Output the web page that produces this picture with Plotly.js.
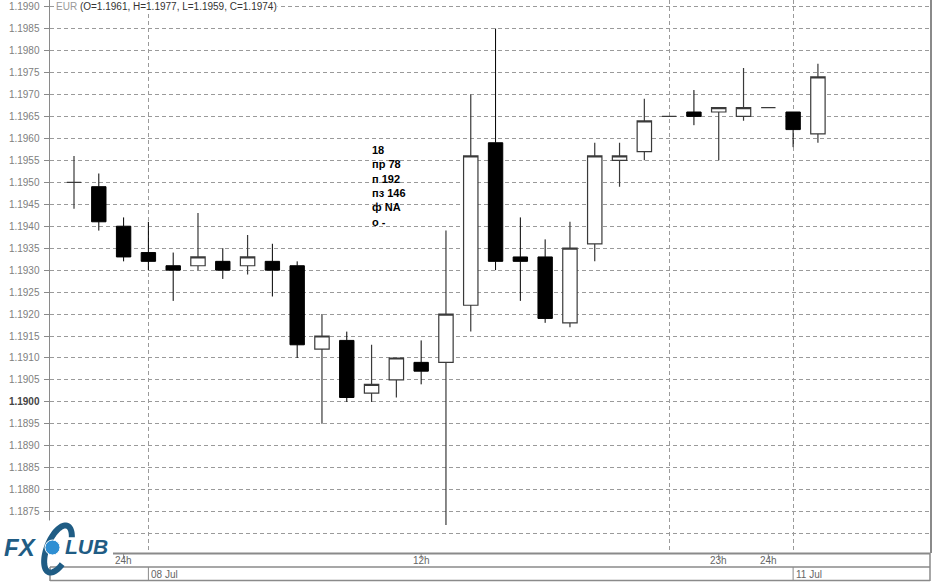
<!DOCTYPE html>
<html>
<head>
<meta charset="utf-8">
<script src="https://cdn.plot.ly/plotly-3.0.1.min.js"></script>
<style>html,body{margin:0;padding:0;background:#fff;}#chart{width:940px;height:582px;}</style>
</head>
<body>
<div id="chart"></div>
<script>
// ---- data ----
const openP  = [1.1950,1.1949,1.1940,1.1934,1.1931,1.1931,1.1932,1.1931,1.1932,1.1931,1.1912,1.1914,1.1902,1.1905,1.1909,1.1909,1.1922,1.1959,1.1933,1.1933,1.1918,1.1936,1.1955,1.1957,1.1965,1.1966,1.1966,1.1965,1.1967,1.1966,1.1961];
const highP  = [1.1956,1.1952,1.1942,1.1941,1.1934,1.1943,1.1935,1.1938,1.1936,1.1932,1.1920,1.1916,1.1913,1.1910,1.1914,1.1939,1.1970,1.1985,1.1942,1.1937,1.1941,1.1959,1.1959,1.1969,1.1965,1.1971,1.1967,1.1976,1.1967,1.1966,1.1977];
const lowP   = [1.1944,1.1939,1.1932,1.1930,1.1923,1.1930,1.1928,1.1929,1.1924,1.1910,1.1895,1.1900,1.1900,1.1901,1.1904,1.1872,1.1916,1.1930,1.1923,1.1918,1.1917,1.1932,1.1949,1.1955,1.1965,1.1963,1.1955,1.1964,1.1967,1.1958,1.1959];
const closeP = [1.1950,1.1941,1.1933,1.1932,1.1930,1.1933,1.1930,1.1933,1.1930,1.1913,1.1915,1.1901,1.1904,1.1910,1.1907,1.1920,1.1956,1.1932,1.1932,1.1919,1.1935,1.1956,1.1956,1.1964,1.1965,1.1965,1.1967,1.1967,1.1967,1.1962,1.1974];
const barIndex = openP.map((_, i) => i);

const yTickVals = [1.1870,1.1875,1.1880,1.1885,1.1890,1.1895,1.1900,1.1905,1.1910,1.1915,1.1920,1.1925,1.1930,1.1935,1.1940,1.1945,1.1950,1.1955,1.1960,1.1965,1.1970,1.1975,1.1980,1.1985,1.1990];
const yTickText = ["","1.1875","1.1880","1.1885","1.1890","1.1895","<b><span style=\"color:#444\">1.1900</span></b>","1.1905","1.1910","1.1915","1.1920","1.1925","1.1930","1.1935","1.1940","1.1945","1.1950","1.1955","1.1960","1.1965","1.1970","1.1975","1.1980","1.1985","1.1990"];

const dayGridIdx = [3, 24, 29];
const hourTickIdx = [2, 14, 26, 28];
const hourTickLabels = ["24h", "12h", "23h", "24h"];
const dayLabelIdx = [3, 29];
const dayLabels = ["08 Jul", "11 Jul"];

const headerSymbol = "EUR";
const headerText = "(O=1.1961, H=1.1977, L=1.1959, C=1.1974)";
const infoLines = ["18", "пр 78", "п 192", "пз 146", "ф NA", "о -"];
const logoLeft = "FX";
const logoRight = "LUB";

// ---- layout helpers ----
const W = 940, H = 582, ML = 50, MR = 10, MT = 0, MB = 29;
const PW = W - ML - MR, PH = H - MT - MB;
const xRange = [-0.968, 34.52];
const yRange = [1.18656, 1.19915];
const px2paperX = p => (p - ML) / PW;
const py2paperY = p => 1 - (p - MT) / PH;
const idx2paperX = i => (i - xRange[0]) / (xRange[1] - xRange[0]);
const FONT = "Liberation Sans, Arial, sans-serif";
const AX = "#8a8a8a";
const LOGO = "#1f5c84";

const shapes = [];
function hline(x0, x1, py, w, c) {
  shapes.push({type:'line', xref:'paper', yref:'paper', x0:px2paperX(x0), x1:px2paperX(x1), y0:py2paperY(py), y1:py2paperY(py), line:{color:c||AX, width:w||1}, layer:'above'});
}
function vlinePx(xp, py0, py1, w, c) {
  shapes.push({type:'line', xref:'paper', yref:'paper', x0:xp, x1:xp, y0:py2paperY(py0), y1:py2paperY(py1), line:{color:c||AX, width:w||1}, layer:'above'});
}
// logo background (covers axis line / grid at bottom-left)
shapes.push({type:'rect', xref:'paper', yref:'paper', x0:px2paperX(-5), x1:px2paperX(113), y0:py2paperY(566), y1:py2paperY(521), fillcolor:'rgba(255,255,255,1)', line:{color:'rgba(255,255,255,1)', width:1}, layer:'above'});
// time axis rows
hline(113, 930, 553.5, 2);
hline(50, 930, 567, 1.5);
hline(50, 930, 580.5, 1.5);
vlinePx(px2paperX(50), 567, 581, 1.5);
vlinePx(px2paperX(930), 553, 581, 1.5);
dayLabelIdx.forEach(i => vlinePx(idx2paperX(i), 567, 580, 1));
hourTickIdx.forEach(i => vlinePx(idx2paperX(i), 553, 559, 1));

// logo: tilted "C" ring drawn as a path in pixel space -> paper
(function () {
  const cx = 58, cy = 549, a = 11, b = 25, phi = 22 * Math.PI / 180;
  let d = '';
  for (let k = 0; k <= 60; k++) {
    const t = (40 + k * (290 / 60)) * Math.PI / 180;
    const u = a * Math.cos(t), v = -b * Math.sin(t);
    const x = cx + u * Math.cos(phi) - v * Math.sin(phi);
    const y = cy + u * Math.sin(phi) + v * Math.cos(phi);
    d += (k === 0 ? 'M' : 'L') + px2paperX(x).toFixed(5) + ',' + py2paperY(y).toFixed(5);
  }
  shapes.push({type:'path', xref:'paper', yref:'paper', path:d, line:{color:LOGO, width:6}, layer:'above'});
})();
shapes.push({type:'circle', xref:'paper', yref:'paper', x0:px2paperX(45), x1:px2paperX(60), y0:py2paperY(555), y1:py2paperY(540), fillcolor:'#2f8fd3', line:{color:'#ffffff', width:1}, layer:'above'});

const annotations = [];
annotations.push({xref:'paper', yref:'paper', x:px2paperX(55), y:py2paperY(7), xanchor:'left', yanchor:'middle', showarrow:false, bgcolor:'#ffffff', borderpad:0,
  text:'<span style="color:#9a9a9a">' + headerSymbol + '</span> ' + headerText, font:{family:FONT, size:10, color:'#333'}});
annotations.push({xref:'paper', yref:'paper', x:px2paperX(370), y:py2paperY(186), xanchor:'left', yanchor:'middle', align:'left', showarrow:false,
  text:infoLines.map(s => '<b>' + s + '</b>').join('<br>'), font:{family:FONT, size:11, color:'#000'}});
hourTickIdx.forEach((i, k) => annotations.push({xref:'x', yref:'paper', x:i, y:py2paperY(560.5), xanchor:'center', yanchor:'middle', showarrow:false,
  text:hourTickLabels[k], font:{family:FONT, size:10, color:'#666'}}));
dayLabelIdx.forEach((i, k) => annotations.push({xref:'x', yref:'paper', x:i, xshift:1, y:py2paperY(574), xanchor:'left', yanchor:'middle', showarrow:false,
  text:dayLabels[k], font:{family:FONT, size:10, color:'#666'}}));
// logo text
annotations.push({xref:'paper', yref:'paper', x:px2paperX(2), y:py2paperY(547), xanchor:'left', yanchor:'middle', showarrow:false,
  text:'<b><i>' + logoLeft + '</i></b>', font:{family:FONT, size:24, color:LOGO}});
annotations.push({xref:'paper', yref:'paper', x:px2paperX(63), y:py2paperY(546), xanchor:'left', yanchor:'middle', showarrow:false,
  text:'<b><i>' + logoRight + '</i></b>', font:{family:FONT, size:21, color:LOGO}});

const trace = {
  type:'candlestick', x:barIndex, open:openP, high:highP, low:lowP, close:closeP,
  increasing:{line:{color:'#3a3a3a', width:1.2}, fillcolor:'#ffffff'},
  decreasing:{line:{color:'#000000', width:1}, fillcolor:'#000000'},
  whiskerwidth:0, hoverinfo:'skip', showlegend:false
};

const layout = {
  width:W, height:H, margin:{l:ML, r:MR, t:MT, b:MB, pad:0},
  paper_bgcolor:'#ffffff', plot_bgcolor:'#ffffff',
  boxgap:0.42, boxgroupgap:0,
  font:{family:FONT, size:10, color:'#808080'},
  showlegend:false,
  xaxis:{range:xRange, tickvals:dayGridIdx, showticklabels:false, ticks:'', showgrid:true, gridcolor:'#9a9a9a', griddash:'4px,3px', gridwidth:1,
    zeroline:false, showline:false, rangeslider:{visible:false}, fixedrange:true},
  yaxis:{range:yRange, tickvals:yTickVals, ticktext:yTickText, ticks:'outside', ticklen:5, tickcolor:AX, tickwidth:1,
    showgrid:true, gridcolor:'#9a9a9a', griddash:'4px,3px', gridwidth:1, zeroline:false,
    showline:true, linecolor:AX, linewidth:1.5, mirror:true, ticklabelstandoff:2,
    tickfont:{family:FONT, size:10, color:'#808080'}, fixedrange:true},
  shapes:shapes, annotations:annotations
};

Plotly.newPlot('chart', [trace], layout, {staticPlot:true, displayModeBar:false});
</script>
</body>
</html>
